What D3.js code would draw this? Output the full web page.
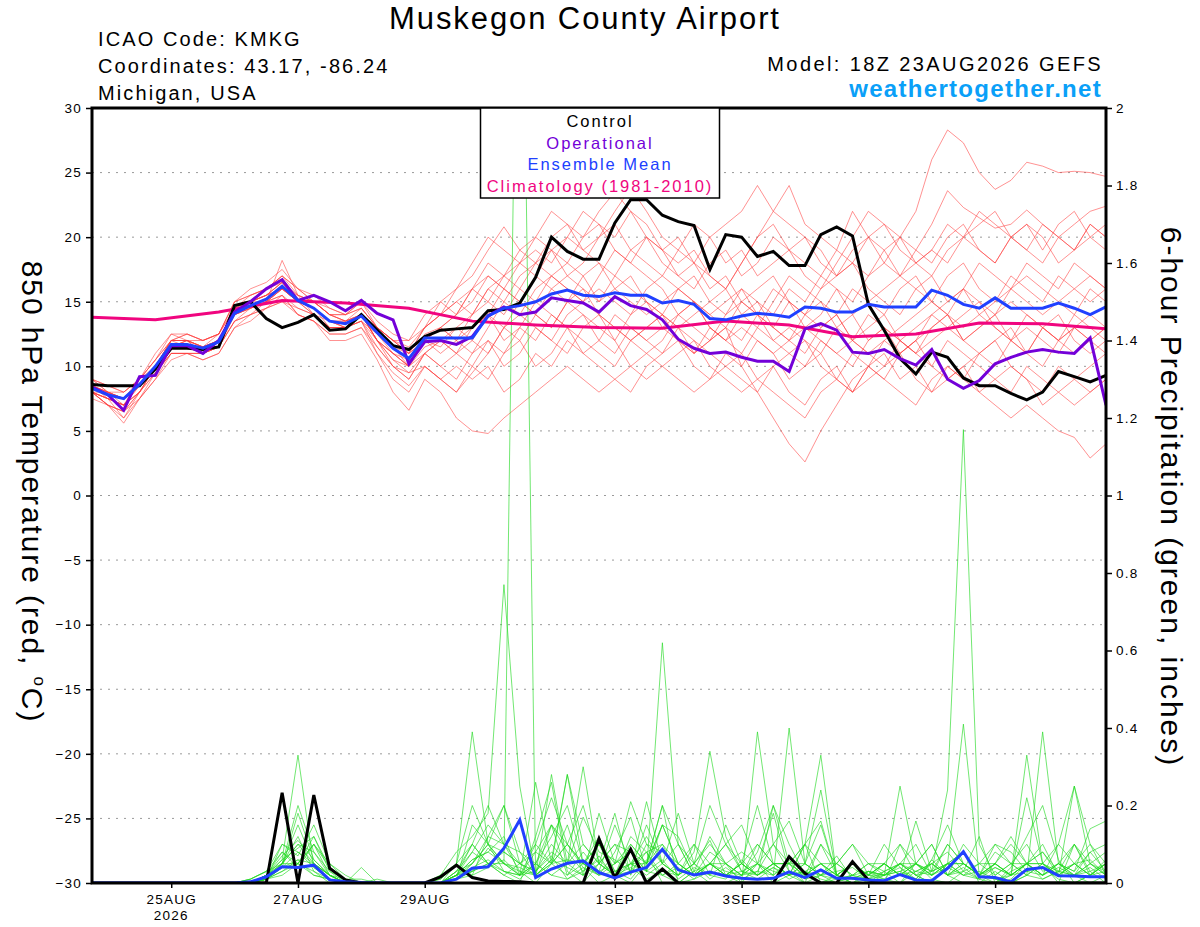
<!DOCTYPE html>
<html>
<head>
<meta charset="utf-8">
<script src="https://cdn.jsdelivr.net/npm/d3@7"></script>
<style>
  body { margin: 0; background: #fff; }
  svg text { font-family: "Liberation Sans", Arial, Helvetica, sans-serif; }
</style>
</head>
<body>
<div id="graphic"></div>
<script>
// forecast run 18Z 23AUG2026, 6-hourly steps out to 384h
var runStart = Date.UTC(2026, 7, 23, 18);
var stepHours = d3.range(0, 385, 6);
var climHours = d3.range(0, 385, 24);

var xTickDates = ["2026-08-25", "2026-08-27", "2026-08-29", "2026-09-01", "2026-09-03", "2026-09-05", "2026-09-07"];
var xTickLabels = ["25AUG", "27AUG", "29AUG", "1SEP", "3SEP", "5SEP", "7SEP"];
var tempTicks = [30, 25, 20, 15, 10, 5, 0, -5, -10, -15, -20, -25, -30];
var precipTicks = [0, 0.2, 0.4, 0.6, 0.8, 1, 1.2, 1.4, 1.6, 1.8, 2];
var gridTicks = [25, 20, 15, 10, 5, 0, -5, -10, -15, -20, -25];

// 850 hPa temperature (C)
var ctrlTemp = [8.6,8.5,8.5,8.5,9.8,11.4,11.4,11.3,11.5,
  14.7,15.0,13.7,13.0,13.4,14.0,12.8,12.9,14.0,
  12.8,11.6,11.3,12.3,12.8,12.9,13.0,
  14.3,14.4,14.9,16.9,20.0,18.9,18.3,18.3,21.1,22.9,22.9,21.7,21.2,20.9,17.5,20.2,
  20.0,18.5,18.9,17.8,17.8,20.2,20.8,20.1,14.8,12.8,10.6,9.4,11.1,10.7,9.1,8.5,8.5,7.9,7.4,8.0,9.6,9.2,8.8,9.3];
var operTemp = [8.4,7.8,6.6,9.2,9.3,11.6,11.6,11.0,12.0,
  14.2,15.0,16.0,16.7,15.1,15.5,15.0,14.3,15.1,
  14.1,13.6,10.2,11.9,12.0,11.7,12.3,
  13.9,14.6,14.0,14.2,15.3,15.1,14.9,14.2,15.4,14.7,14.4,13.6,12.1,11.4,11.0,11.1,
  10.7,10.4,10.4,9.6,12.9,13.3,12.8,11.1,11.0,11.3,10.6,10.1,11.3,9.0,8.3,8.9,10.2,10.7,11.1,11.3,11.1,11.0,12.2,7.0];
var meanTemp = [8.3,7.8,7.5,8.6,10.0,11.7,11.7,11.4,11.9,
  14.1,14.7,15.2,16.2,15.1,14.5,13.5,13.3,13.9,
  12.6,11.4,10.6,12.2,12.2,12.2,12.2,
  13.9,14.5,14.7,15.0,15.6,15.9,15.5,15.4,15.7,15.5,15.5,14.9,15.1,14.8,13.7,13.6,
  13.9,14.1,14.0,13.8,14.6,14.5,14.2,14.2,14.8,14.6,14.6,14.6,15.9,15.5,14.8,14.5,15.3,14.5,14.5,14.5,14.9,14.5,14.0,14.6];
var climTemp = [13.8,13.6,14.2,15.1,14.9,14.5,13.5,13.2,13.0,12.95,13.5,13.2,12.3,12.5,13.35,13.3,12.9];

var m01 = [8.5,8,7,9,10,12,12,11.5,12.5, 14.5,15,16,17,15.5,15,14,14,14.5, 13,12,11.5,13,14,15,14,
  16,17,16,18,19,18,20,21,19,18,20,19,17,18,20,21,
  22,24,22,21,20,19,17,18,17,19,20,22,26,28.3,27.3,25,23.7,24.4,25.8,25.5,25,25.1,25,24.7];
var m02 = [8,7.5,6,8,10,11.5,12,11,12, 14,15,15.5,16.5,15,14.5,13,13,14, 12,11,10,12,13,14,16,
  18,17,19,20,22,21,20,22,23.5,22,20,19,18,19,17,16,
  18,20,22,24,21,20,19,22,20,18,17,19,21,23.6,22.3,21.5,20.7,21,22.1,21,20,21,22,22.4];
var m03 = [8,7,5.6,7.5,9.5,11,11,11,11.5, 13.5,14.5,15,18.2,15.5,14,13,13,13.5, 11,9,8,10,9,8,10,
  12,11,13,12,14,13,11,12,14,13,12,11,13,12,11,10,
  11,9,8,7,6,8,9,8,10,9,8,7,9,10,9,8,7,6,7,6,5,4.5,2.9,4];
var m04 = [9,8.5,8,9,10.5,12,12.5,12,12.5, 15,16,16.5,17.5,16,15,14.5,14,15, 13,12,11,13,14,15,16,
  15,17,18,17,19,20,22,21,20,22,21,19,20,18,16,17,
  15,14,16,15,13,14,16,15,17,18,20,19,18,20,21,19,18,20,21,19,21,22,20,21];
var m05 = [8,7.5,7,8,9.5,11,11,10.5,11, 13,14,14.5,15.5,14,13.5,12.5,12.5,13, 11.5,10,9.5,10,9,8,9.5,
  11,13,12,14,13,15,14,13,12,14,15,13,12,11,12,13,
  10,8,6,4,2.6,5,7,9,10,9,11,12,13,14,12,13,14,15,14,13,12,13,12,13];
var m06 = [8.5,8,7.5,8.5,10,12,12,11.5,12, 14,15,15.5,16,15,14.5,13.5,13.5,14, 12.5,11,10,12.5,13,12,11,
  13,15,14,16,17,16,15,16,15,14,16,17,16,15,14,15,
  16,14,13,15,14,13,14,12,11,12,13,14,15,14,13,14,15,16,15,14,15,16,17,16];
var m07 = [8,7,6.5,8,10,11.5,11.5,11,11.5, 14,14.5,15,16,15,14,13,13,14, 12,10,9,11,10,11,12,
  14,13,15,14,13,15,16,14,13,12,13,14,12,11,13,12,
  14,15,13,12,14,15,13,12,14,13,12,11,13,14,12,11,10,12,11,13,12,11,12,11];
var m08 = [9,8,8,9,10.5,12.5,12.5,12,12.5, 15,15.5,16,16.5,15,15,14,13.5,14.5, 13,12,12,13,15,16,17,
  19,20.8,19,18,20,21,19,20,22,23.8,22,20,19,21,20,18,
  19,17,18,19,20,18,17,19,20,21,20,18,19,18,20,21,22,20,19,18,20,19,21,20];
var m09 = [7.5,7,6.5,7.5,9,10.5,11,10.5,11, 13,13.5,14.5,15,14,13.5,12,12,12.5, 10.5,8,6.6,9,8,6,5,
  4.8,6,7,8,9,10,9,8,9,10,11,10,9,8,9,10,
  9,8,10,11,12,10,9,11,10,12,11,9,8,10,9,11,12,10,9,8,10,9,10,11];
var m10 = [8,8,7.5,8.5,10,11.5,12,11.5,12, 14,15,15,16,15.5,15,14,13.5,14, 13,12,11,12,11,12,13,
  14,16,15,17,16,15,17,18,16,15,14,15,16,17,15,14,
  16,15,14,16,15,17,16,14,15,16,17,16,15,17,18,16,15,17,16,15,17,16,15,16];
var m11 = [8.5,7.5,7,8,10,12,11.5,11,12, 14.5,15,15.5,16.5,15,14.5,13.5,13,14, 12,11,10.5,12,13,12,14,
  16,15,17,18,17,16,15,17,19,18,17,16,14,15,13,12,
  13,12,11,12,13,12,11,12,13,14,12,13,14,15,16,14,13,12,14,13,12,14,13,12];
var m12 = [8,7.5,7,8.5,10,11.5,11.5,11.5,12, 14,14.5,15,16,15,14.5,13.5,13,13.5, 12.5,11.5,10,11,10,9,11,
  12,10,11,13,12,11,13,14,12,10,9,10,11,12,10,9,
  8,9,10,8,7,9,10,8,9,10,11,12,10,9,10,11,12,13,11,10,12,13,12,13];
var m13 = [9,8.5,8,9,11,12.5,12,12,12.5, 15,15.5,16,17,16,15.5,14.5,14,15, 13.5,12.5,12,14,15,14,16,
  17,16,18,19,18,20,19,18,17,19,20,18,17,16,18,19,
  17,18,20,19,18,17,19,18,20,19,17,18,19,21,20,19,18,20,21,20,18,19,20,19];
var m14 = [8,7,6.5,8,9.5,11,11,11,11.5, 13.5,14,14.5,15,14.5,14,13,13,13.5, 11.5,10,9,11,12,11,10,
  9,11,12,10,11,13,12,11,10,12,13,14,13,11,12,13,
  12,14,13,12,11,13,14,12,11,10,12,11,10,12,11,10,9,8,10,9,8,7,8,9];
var m15 = [8.5,8,7.5,9,10.5,12,12,11.5,12, 14,15,15.5,16,15,14,13.5,13.5,14, 12,11,10,12,11.5,13,14,
  15,14,16,15,17,18,17,15,16,17,15,14,16,15,14,13,
  15,16,17,15,14,16,17,18,16,15,14,16,17,15,16,18,17,16,18,17,16,18,17,16];
var m16 = [8,7.5,7,8,10,11.5,12,11,12, 14,14.5,15,15.5,14.5,14,13,13,13.5, 12,10.5,9.5,11,12,13,12,
  11,13,14,13,12,14,15,14,13,12,11,12,14,15,13,12,
  11,13,12,11,10,12,11,10,12,13,11,12,14,13,12,13,14,12,13,12,11,13,14,13];
var m17 = [9,8,7.5,8.5,10,12,12.5,12,12.5, 14.5,15.5,16,17,16,15,14,14,14.5, 13,12,11,13,14,16,18,
  20,19,18,20,19,17,18,20,21,19,18,17,19,18,17,16,
  18,20,21,19,17,16,18,20,22,21,19,18,17,19,20,22,21,20,19,21,20,19,21,20];
var m18 = [8,7,6,7.5,9,11,11,11,11.5, 13.5,14,15,15.5,14,13.5,12.5,12.5,13, 11,9.5,8.5,10,9,10,9,
  10,8,9,11,10,12,11,10,9,8,10,11,12,10,9,11,
  10,12,11,9,10,11,9,8,10,11,9,10,8,9,10,8,9,10,9,7,8,9,8,9];
var m19 = [8.5,8,7.5,8.5,10,12,12,11.5,12, 14,15,15.5,16.5,15.5,15,14,13.5,14, 12.5,11.5,11,12,13,14,15,
  17,16,15,14,16,17,16,15,17,16,15,14,13,14,15,16,
  14,13,15,17,16,15,14,16,15,14,16,17,15,14,16,15,14,16,17,16,15,14,16,15];
var m20 = [8,7.5,7,8.5,10,11.5,11.5,11,11.5, 14,14.5,15,16,15,14.5,13.5,13,14, 12,10.5,10,11.5,12,11,13,
  14,12,13,15,14,13,14,12,11,13,12,13,14,13,12,14,
  15,14,12,13,12,11,13,14,12,13,12,11,12,13,14,15,13,12,11,13,14,12,11,12];

// 6-hour precipitation (inches)
var ctrlPrecip = [0,0,0,0,0,0,0,0,0,0, 0,0,.233,0,.227,.038,.008,0,0,0, 0,0,.016,.046,.014,.005,.004,.003,0,0,
  0,0,.114,.013,.087,0,.036,0,0,0, 0,0,0,0,.068,.025,0,0,.055,.008, 0,0,0,0,0,0,0,0,0,0, 0,0,0,0,0];
var meanPrecip = [0,0,0,0,0,0,0,0,0,0, .003,.016,.042,.04,.046,.008,.003,.001,0,0, 0,0,0,.01,.038,.042,.09,.163,.014,.036,
  .051,.057,.027,.013,.028,.04,.087,.034,.021,.028, .018,.012,.01,.012,.029,.014,.034,.012,.012,.008,
  .006,.022,.008,.006,.038,.081,.016,.014,.003,.035, .04,.019,.018,.016,.016];

var p01 = [0,0,0,0,0,0,0,0,0,0, 0,.01,.05,.12,.03,0,0,0,0,0, 0,0,0,.02,.08,.15,.1,.03,0,.05,
  .1,.04,0,.02,.12,.08,0,0,.03,0, 0,.02,.08,.2,.05,0,0,.01,0,0, .03,0,.05,.1,.02,0,0,0,.04,.12, .2,.06,0,.02,.05];
var p02 = [0,0,0,0,0,0,0,0,0,0, .01,.03,.08,.05,.1,.02,0,0,0,0, 0,0,.02,.05,.39,.1,.03,.02,.05,.15,
  .08,.03,.1,.02,0,.05,.2,0,.03,.12, .05,0,.39,.1,.03,0,.02,0,.05,0, 0,.1,.02,0,.05,.08,0,.03,0,.02, .05,0,.1,.03,0];
var p03 = [0,0,0,0,0,0,0,0,0,0, 0,.02,.06,.33,.04,.01,0,0,0,0, 0,0,0,.03,.1,.05,.02,0,.12,.26,
  .03,0,.05,.18,.02,.1,.05,.02,.08,.34, .12,.03,.05,0,.02,0,.1,.02,0,.03, .02,.25,.05,.01,0,.03,.12,0,.01,.05, .08,.02,.25,.1,.02];
var p04 = [0,0,0,0,0,0,0,0,0,0, 0,.01,.1,.07,.15,.05,.01,0,0,0, 0,0,.01,.05,.02,.12,.2,.08,.02,.06,
  .28,.05,.02,.08,.17,.03,.62,.1,.02,.05, .03,.02,.1,.05,.05,.1,.33,.02,.05,.02, .1,.04,0,.06,.15,.05,.02,.1,.08,.03, .02,.05,.03,.14,.16];
var p05 = [0,0,0,0,0,0,0,0,0,0, 0,.01,.04,.06,.05,.02,0,0,0,0, 0,0,0,.02,.03,.05,.05,3.0,.02,.05,
  .1,.2,.05,.02,.03,.08,.02,0,.01,.05, .02,0,.05,.03,.02,.1,0,.02,0,.01, .03,.05,.02,0,.05,.41,.02,0,.03,.05, .02,.04,.02,.05,.03];
var p06 = [0,0,0,0,0,0,0,0,0,0, 0,.02,.05,.1,.08,.03,.01,.01,0,0, 0,0,.02,.08,.12,.18,.77,.25,.02,.15,
  .1,.05,.12,.03,.05,.08,.1,.02,.05,.2, .1,.05,.02,.05,.02,.03,.05,.02,0,.02, .05,.02,.05,.03,.1,.05,.02,.05,.12,.05, .08,.03,.05,.02,.06];
var p07 = [0,0,0,0,0,0,0,0,0,0, .01,.03,.05,.2,.08,.02,0,0,0,0, 0,0,0,.01,.05,.1,.08,.05,.03,.1,
  .05,.17,.08,.06,.03,.21,.05,.18,.05,.11, .02,.05,.02,.2,.1,.02,.05,.01,.02,0, .02,.05,.03,.05,.02,.05,.02,.04,.02,.33, .05,.03,.1,.02,.05];
var p08 = [0,0,0,0,0,0,0,0,0,0, 0,.01,.03,.05,.03,.01,0,0,0,0, 0,0,0,.05,.2,.1,.05,.02,.08,.05,
  .28,.1,.05,.02,.1,.05,.15,.12,.03,.05, .1,.15,.05,.02,.4,.05,.02,.01,.02,.01, .05,.02,.16,.03,.24,1.17,.1,.02,.05,.02, .39,.05,.02,.03,.05];
var p09 = [0,0,0,0,0,0,0,0,0,0, 0,.02,.08,.04,.1,.04,0,.04,0,0, 0,0,0,.02,.06,.08,.12,.02,.05,.02,
  .05,.3,.05,.1,.08,.03,.02,.05,.1,.02, .05,.02,.03,.1,.05,.05,.24,.02,.01,.03, .02,.03,.05,.02,.1,.05,.02,.08,.05,.05, .1,.02,.05,.06,.02];
var p10 = [0,0,0,0,0,0,0,0,0,0, 0,.01,.05,.15,.05,.02,0,0,0,0, 0,0,0,.03,.08,.05,.03,.02,.26,.05,
  .02,.08,.03,.05,.21,.1,.08,.05,.02,.05, .02,.05,.1,.05,.02,.05,.02,.05,.02,.05, .02,.05,.02,.03,.05,.08,.02,.01,.02,.22, .05,.1,.25,.05,.08];
var p11 = [0,0,0,0,0,0,0,0,0,0, 0,.02,.04,.05,.12,.03,0,0,.01,0, 0,0,0,.01,.15,.1,.05,.03,.02,.28,
  .05,.02,.18,.05,.08,.03,.15,.05,.02,.08, .05,.02,.05,.18,.03,.02,.1,.05,.02,.05, .03,.05,.02,.05,.08,.03,.05,.02,.05,.1, .03,.05,.03,.08,.1];
var p12 = [0,0,0,0,0,0,0,0,0,0, .01,.03,.1,.08,.05,.02,0,0,0,0, 0,0,0,.02,.1,.2,.1,.05,.02,.05,
  .06,.05,.1,.03,.05,.12,.05,.02,.1,.05, .02,.05,.02,.05,.02,.1,.16,.02,.05,.02, .05,.02,.03,.05,.02,.1,.05,.05,.02,.05, .02,.05,.02,.08,.03];
var p13 = [0,0,0,0,0,0,0,0,0,0, 0,.01,.03,.06,.02,.01,0,0,0,0, 0,0,0,.01,.03,.05,.08,.05,.08,.15,
  .02,.05,.03,.15,.05,.02,.05,.1,.02,.05, .1,.03,.02,.05,.05,.02,.05,.02,.05,.02, .01,.05,.1,.02,.05,.02,.01,.05,.02,.05, .02,.1,.05,.02,.05];
var p14 = [0,0,0,0,0,0,0,0,0,0, 0,.02,.05,.1,.05,.02,.01,0,0,0, 0,0,.01,.05,.1,.05,.02,.05,.1,.05,
  .15,.02,.05,.1,.03,.15,.05,.02,.05,.1, .05,.02,.05,.1,.16,.05,.02,.05,.1,.05, .05,.02,.05,.03,.05,.05,.02,.05,.1,.05, .02,.05,.1,.05,.02];
var p15 = [0,0,0,0,0,0,0,0,0,0, 0,.01,.04,.08,.04,.01,0,0,0,0, 0,0,0,.02,.04,.06,.03,.01,.05,.02,
  .01,.04,.02,.03,.01,.06,.02,.04,.01,.03, .02,.03,.01,.04,.02,.03,.01,0,.02,.03, .01,0,.03,.02,.04,.02,.03,.01,0,.02, .01,.03,.02,0,.02];
var p16 = [0,0,0,0,0,0,0,0,0,0, 0,.02,.06,.09,.12,.04,.01,0,0,0, 0,0,0,.03,.05,.1,.2,.05,.03,.08,
  .05,.1,.05,.02,.05,.05,.1,.05,.02,.05, .02,.05,.2,.05,.02,.05,.15,.02,.05,.02, .05,.02,.05,.1,.02,.05,.02,.05,.02,.05, .05,.02,.05,.1,.05];
var p17 = [0,0,0,0,0,0,0,0,0,0, 0,.01,.05,.05,.1,.05,.02,0,0,0, 0,0,0,.02,.05,.12,.1,.08,.05,.12,
  .2,.05,.1,.05,.1,.05,.2,.1,.05,.02, .15,.05,.02,.05,.05,.1,.05,.02,.05,.02, .05,.1,.05,.02,.05,.02,.05,.1,.05,.02, .05,.02,.02,.05,.02];
var p18 = [0,0,0,0,0,0,0,0,0,0, 0,.01,.02,.05,.02,.01,0,0,0,0, 0,0,0,.01,.02,.04,.06,.02,.03,.07,
  .01,.03,.06,.02,.04,.01,.03,.02,.05,.01, .04,.01,.03,.02,.06,.01,.02,.03,.04,.01, .02,.03,.01,.05,.02,.04,.01,0,.02,.03, .04,.01,0,.02,.03];
var p19 = [0,0,0,0,0,0,0,0,0,0, 0,.02,.07,.11,.06,.02,0,0,0,0, 0,0,0,.02,.06,.08,.05,.02,.1,.22,
  .1,.05,.02,.05,.08,.05,.15,.05,.02,.05, .05,.08,.05,.02,.05,.02,.05,.05,.1,.02, .02,.05,.05,.02,.05,.05,.02,.05,.02,.05, .05,.02,.05,.02,.05];
var p20 = [0,0,0,0,0,0,0,0,0,0, 0,.01,.04,.18,.06,.02,0,0,0,0, 0,0,0,.01,.03,.09,.05,.04,.02,.06,
  .04,.02,.07,.01,.05,.03,.06,.01,.04,.02, .01,.06,.02,.04,.01,.03,.02,.07,.01,.03, .02,.04,.01,.06,.02,.03,.01,.04,.02,.05, .01,.03,.02,.04,.01];

var memberTemps = [m01, m02, m03, m04, m05, m06, m07, m08, m09, m10, m11, m12, m13, m14, m15, m16, m17, m18, m19, m20];
var memberPrecip = [p01, p02, p03, p04, p05, p06, p07, p08, p09, p10, p11, p12, p13, p14, p15, p16, p17, p18, p19, p20];

var width = 1200, height = 927;
var plot = { left: 92, right: 1106, top: 108, bottom: 883 };

var svg = d3.select("#graphic").append("svg")
    .attr("width", width)
    .attr("height", height);

var hourDate = function (h) { return new Date(runStart + h * 3600000); };

var x = d3.scaleUtc()
    .domain([hourDate(0), hourDate(384)])
    .range([plot.left, plot.right]);
var yT = d3.scaleLinear().domain([-30, 30]).range([plot.bottom, plot.top]);
var yP = d3.scaleLinear().domain([0, 2]).range([plot.bottom, plot.top]);

svg.append("clipPath").attr("id", "plotclip")
  .append("rect")
    .attr("x", plot.left).attr("y", plot.top)
    .attr("width", plot.right - plot.left).attr("height", plot.bottom - plot.top);

// dotted grid
svg.append("g").selectAll("line")
    .data(gridTicks)
  .enter().append("line")
    .attr("x1", plot.left).attr("x2", plot.right)
    .attr("y1", function (d) { return yT(d); })
    .attr("y2", function (d) { return yT(d); })
    .attr("stroke", "#9a9a9a")
    .attr("stroke-width", 1)
    .attr("stroke-dasharray", "2,6");

var tempLine = d3.line()
    .x(function (d, i) { return x(hourDate(stepHours[i])); })
    .y(function (d) { return yT(d); });
var precipLine = d3.line()
    .x(function (d, i) { return x(hourDate(stepHours[i])); })
    .y(function (d) { return yP(d); });
var climLine = d3.line()
    .x(function (d, i) { return x(hourDate(climHours[i])); })
    .y(function (d) { return yT(d); });

var lines = svg.append("g").attr("clip-path", "url(#plotclip)");

lines.selectAll(".member")
    .data(memberTemps)
  .enter().append("path")
    .attr("class", "member")
    .attr("d", tempLine)
    .attr("fill", "none")
    .attr("stroke", "#ff3b3b")
    .attr("stroke-opacity", 0.8)
    .attr("stroke-width", 0.7);

lines.selectAll(".rain")
    .data(memberPrecip)
  .enter().append("path")
    .attr("class", "rain")
    .attr("d", precipLine)
    .attr("fill", "none")
    .attr("stroke", "#1fd81f")
    .attr("stroke-opacity", 0.9)
    .attr("stroke-width", 0.7);

lines.append("path").datum(climTemp)
    .attr("d", climLine)
    .attr("fill", "none").attr("stroke", "#f0057f").attr("stroke-width", 3);
lines.append("path").datum(ctrlTemp)
    .attr("d", tempLine)
    .attr("fill", "none").attr("stroke", "#000").attr("stroke-width", 3);
lines.append("path").datum(operTemp)
    .attr("d", tempLine)
    .attr("fill", "none").attr("stroke", "#7300d8").attr("stroke-width", 3);
lines.append("path").datum(meanTemp)
    .attr("d", tempLine)
    .attr("fill", "none").attr("stroke", "#2040ff").attr("stroke-width", 3);
lines.append("path").datum(ctrlPrecip)
    .attr("d", precipLine)
    .attr("fill", "none").attr("stroke", "#000").attr("stroke-width", 3);
lines.append("path").datum(meanPrecip)
    .attr("d", precipLine)
    .attr("fill", "none").attr("stroke", "#2040ff").attr("stroke-width", 3);

// axes
var parseDay = d3.utcParse("%Y-%m-%d");

var leftAxis = svg.append("g")
    .attr("transform", "translate(" + plot.left + ",0)")
    .call(d3.axisLeft(yT).tickValues(tempTicks).tickSize(6).tickSizeOuter(0).tickPadding(4));
var rightAxis = svg.append("g")
    .attr("transform", "translate(" + plot.right + ",0)")
    .call(d3.axisRight(yP).tickValues(precipTicks).tickSize(6).tickSizeOuter(0).tickPadding(4)
      .tickFormat(d3.format("~g")));
var bottomAxis = svg.append("g")
    .attr("transform", "translate(0," + plot.bottom + ")")
    .call(d3.axisBottom(x).tickValues(xTickDates.map(parseDay)).tickSize(5).tickSizeOuter(0).tickPadding(6)
      .tickFormat(function (d, i) { return xTickLabels[i]; }));

[leftAxis, rightAxis, bottomAxis].forEach(function (g) {
  g.select(".domain").remove();
  g.selectAll(".tick line").attr("stroke", "#000").attr("stroke-width", 1.5);
  g.selectAll("text")
    .attr("font-family", "Liberation Sans, Arial, sans-serif")
    .attr("font-size", 13.5)
    .attr("letter-spacing", 1.2)
    .attr("fill", "#000");
});

bottomAxis.append("text")
    .attr("x", x(parseDay(xTickDates[0])))
    .attr("y", 37)
    .attr("text-anchor", "middle")
    .attr("font-size", 13.5)
    .attr("letter-spacing", 1.2)
    .attr("fill", "#000")
    .text("2026");

// frame
svg.append("rect")
    .attr("x", plot.left).attr("y", plot.top)
    .attr("width", plot.right - plot.left).attr("height", plot.bottom - plot.top)
    .attr("fill", "none").attr("stroke", "#000").attr("stroke-width", 3);

// legend
var legendItems = ["Control", "Operational", "Ensemble Mean", "Climatology (1981-2010)"];
var legendColors = ["#000", "#7300d8", "#2040ff", "#f0057f"];
svg.append("rect")
    .attr("x", 480.5).attr("y", plot.top)
    .attr("width", 239).attr("height", 90)
    .attr("fill", "#fff").attr("stroke", "#000").attr("stroke-width", 1.5);
svg.append("g").selectAll("text")
    .data(legendItems)
  .enter().append("text")
    .attr("x", 600)
    .attr("y", function (d, i) { return 127 + i * 21.6; })
    .attr("text-anchor", "middle")
    .attr("font-size", 16.5)
    .attr("letter-spacing", 2)
    .attr("fill", function (d, i) { return legendColors[i]; })
    .text(function (d) { return d; });

// header text
svg.append("text")
    .attr("x", 585).attr("y", 29)
    .attr("text-anchor", "middle")
    .attr("font-size", 31)
    .attr("letter-spacing", 1.9)
    .text("Muskegon County Airport");

var infoLines = ["ICAO Code: KMKG", "Coordinates: 43.17, -86.24", "Michigan, USA"];
svg.append("g").selectAll("text")
    .data(infoLines)
  .enter().append("text")
    .attr("x", 98)
    .attr("y", function (d, i) { return 46 + i * 27; })
    .attr("font-size", 20)
    .attr("letter-spacing", 2.1)
    .text(function (d) { return d; });

svg.append("text")
    .attr("x", 1103).attr("y", 71)
    .attr("text-anchor", "end")
    .attr("font-size", 20)
    .attr("letter-spacing", 2.4)
    .text("Model: 18Z 23AUG2026 GEFS");
svg.append("text")
    .attr("x", 1102).attr("y", 97)
    .attr("text-anchor", "end")
    .attr("font-size", 24)
    .attr("font-weight", "bold")
    .attr("letter-spacing", 1.3)
    .attr("fill", "#0aa0f8")
    .text("weathertogether.net");

// axis titles, both read top to bottom
var leftTitle = svg.append("text")
    .attr("transform", "translate(22,492) rotate(90)")
    .attr("text-anchor", "middle")
    .attr("font-size", 30)
    .attr("letter-spacing", 1.9);
leftTitle.append("tspan").text("850 hPa Temperature (red, ");
leftTitle.append("tspan").attr("font-size", 17).attr("dy", -12).text("o");
leftTitle.append("tspan").attr("dy", 12).text("C)");

svg.append("text")
    .attr("transform", "translate(1161,497) rotate(90)")
    .attr("text-anchor", "middle")
    .attr("font-size", 30)
    .attr("letter-spacing", 2)
    .text("6-hour Precipitation (green, inches)");
</script>
</body>
</html>
